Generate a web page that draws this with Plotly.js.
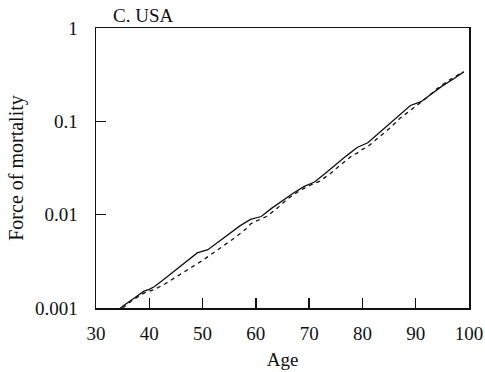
<!DOCTYPE html>
<html>
<head>
<meta charset="utf-8">
<script src="https://cdn.plot.ly/plotly-3.0.1.min.js"></script>
<style>html,body{margin:0;padding:0;background:#fff;}#chart{width:485px;height:372px;}</style>
</head>
<body>
<div id="chart"></div>
<script>
var ageSolid = [34,35,37,39,40,41,43,45,47,49,51,53,55,57,59,61,63,65,67,69,71,73,75,77,79,81,83,85,87,89,91,93,95,97,99];
var rateSolid = [0.000933,0.001047,0.001259,0.001514,0.001585,0.001698,0.002089,0.002570,0.003162,0.003890,0.004217,0.005129,0.006310,0.007586,0.008913,0.009550,0.011749,0.014125,0.016982,0.019953,0.022387,0.027542,0.034674,0.042658,0.052481,0.058884,0.074131,0.093325,0.117490,0.147911,0.162181,0.199526,0.239883,0.281838,0.338844];
var ageDashed = [35,37,39,40,41,43,45,47,49,50,52,54,56,58,59,60,62,64,66,68,69,70,72,74,76,78,79,80,81,83,85,87,89,90,92,94,96,98,99];
var rateDashed = [0.001,0.00123,0.001445,0.001514,0.001585,0.00182,0.002138,0.002512,0.002951,0.003236,0.00389,0.004677,0.005623,0.006918,0.007943,0.008511,0.00955,0.01175,0.01479,0.01778,0.01905,0.02042,0.02291,0.02754,0.03467,0.04266,0.04571,0.05012,0.0537,0.06607,0.08318,0.1072,0.1318,0.1445,0.1778,0.2239,0.2692,0.3162,0.3388];
var xTicks = [30,40,50,60,70,80,90,100];
var yTicks = [0.001,0.01,0.1,1];
var yTickText = ["0.001","0.01","0.1","1"];

var font = "Liberation Serif, Times New Roman, serif";
var traces = [
  {x: ageSolid, y: rateSolid, mode: "lines", line: {color: "#111", width: 1.3}, showlegend: false},
  {x: ageDashed, y: rateDashed, mode: "lines", line: {color: "#111", width: 1.3, dash: "4px,4px"}, showlegend: false}
];
var layout = {
  width: 485, height: 372,
  margin: {l: 96, r: 16, t: 28, b: 64},
  paper_bgcolor: "#fff", plot_bgcolor: "#fff",
  font: {family: font, size: 19, color: "#111"},
  title: {text: "C. USA", x: 113/485, xanchor: "left", y: 0.96, yanchor: "middle", font: {family: font, size: 19, color: "#111"}},
  xaxis: {
    range: [30, 100], tickvals: xTicks, ticks: "inside", ticklen: 10, tickwidth: 1.3, tickcolor: "#111",
    showline: true, linecolor: "#111", linewidth: 1.5, mirror: true, showgrid: false, zeroline: false,
    ticklabelstandoff: 8,
    title: {text: "Age", font: {family: font, size: 19}, standoff: 9},
    tickfont: {family: font, size: 19}
  },
  yaxis: {
    type: "log", range: [-3, 0], tickvals: yTicks, ticktext: yTickText, ticks: "inside", ticklen: 10, tickwidth: 1.3, tickcolor: "#111",
    showline: true, linecolor: "#111", linewidth: 1.5, mirror: true, showgrid: false, zeroline: false,
    ticklabelstandoff: 13,
    title: {text: "Force of mortality", font: {family: font, size: 20}, standoff: 6},
    tickfont: {family: font, size: 19}
  }
};
Plotly.newPlot("chart", traces, layout, {staticPlot: true, displayModeBar: false});
</script>
</body>
</html>
